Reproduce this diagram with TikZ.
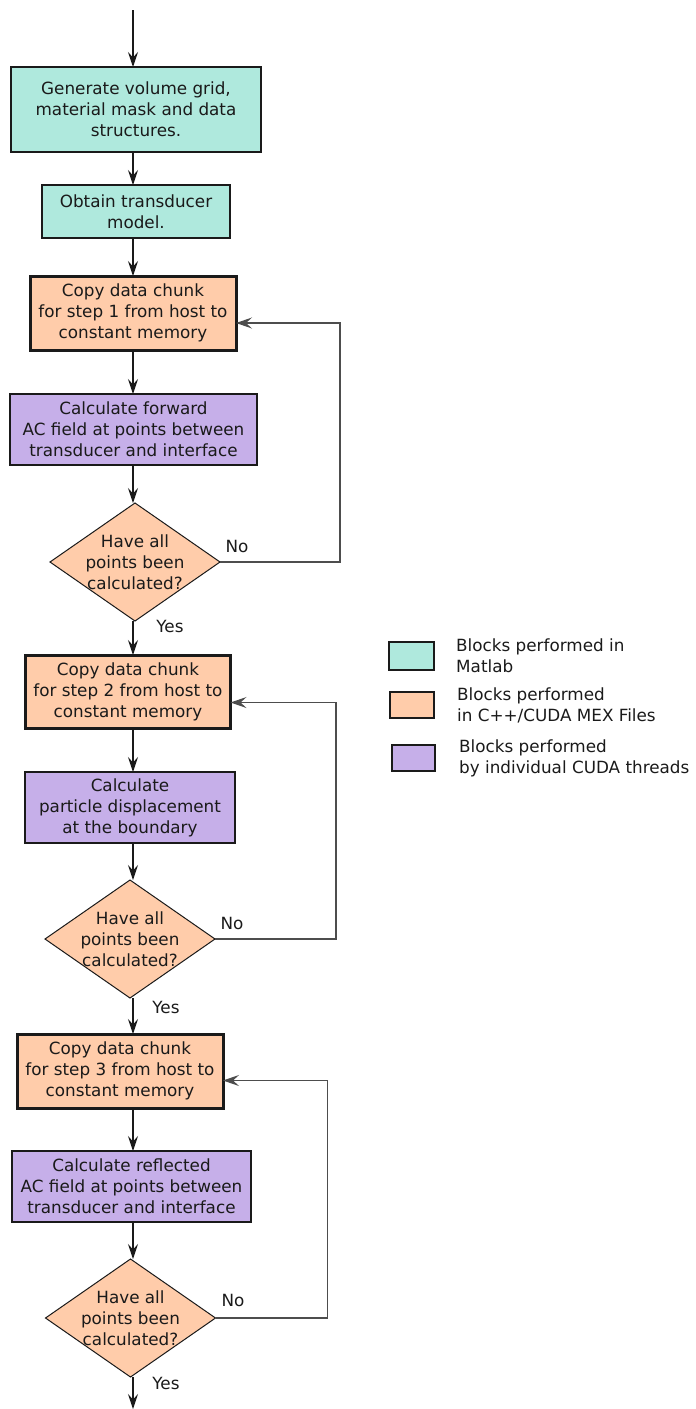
\documentclass[tikz,border=0pt]{standalone}
\usepackage{fontspec}
\setmainfont{DejaVu Sans}
\usetikzlibrary{positioning,arrows.meta,shapes.geometric,calc}
\definecolor{Teal}{RGB}{175,233,221}
\definecolor{Peach}{RGB}{255,204,170}
\definecolor{Lilac}{RGB}{198,175,233}
\definecolor{Ink}{RGB}{26,26,26}
\definecolor{Wire}{RGB}{77,77,77}
\newcommand\boxfont{\fontsize{16.8}{21}\selectfont}

\begin{document}
\begin{tikzpicture}[
 matbox/.style={draw=Ink,fill=Teal,line width=1.8pt,align=center,font=\boxfont,text=Ink,inner sep=0pt,outer sep=0pt},
 mexbox/.style={draw=Ink,fill=Peach,line width=3pt,align=center,font=\boxfont,text=Ink,inner sep=0pt,outer sep=0pt},
 thrbox/.style={draw=Ink,fill=Lilac,line width=2.2pt,align=center,font=\boxfont,text=Ink,inner sep=0pt,outer sep=0pt},
 dec/.style={diamond,draw=Ink,fill=Peach,line width=1pt,minimum width=170pt,minimum height=118pt,inner sep=0pt,outer sep=0pt},
 lab/.style={font=\boxfont,text=Ink,align=center,inner sep=0pt},
 keybox/.style={draw=Ink,line width=1.8pt,minimum width=44pt,minimum height=26pt,inner sep=0pt,outer sep=0pt},
 flow/.style={-{Stealth[length=15pt,width=10pt,inset=5.5pt]},line width=1.2pt,Ink},
 back/.style={-{Stealth[length=16pt,width=11pt,inset=6pt]},line width=1.3pt,Wire}]
\useasboundingbox (0,0) rectangle (696pt,-1409pt);
\coordinate (top) at (133pt,-10pt);
\coordinate (bot) at (133pt,-1409pt);
% Matlab side
\node[matbox,minimum width=250pt,minimum height=85pt] (b1) at (136pt,-109.5pt) {Generate volume grid,\\material mask and data\\structures.};
\node[matbox,minimum width=188pt,minimum height=53pt,below=33pt of b1] (b2) {Obtain transducer\\model.};
% step 1
\node[mexbox,minimum width=206pt,minimum height=74pt,below=38pt of b2,xshift=-3pt] (b3) {Copy data chunk\\for step 1 from host to\\constant memory};
\node[thrbox,minimum width=247pt,minimum height=71pt,below=44pt of b3,xshift=.5pt] (b4) {Calculate forward\\AC field at points between\\transducer and interface};
\node[dec,below=38pt of b4,xshift=1.5pt,label={[lab]center:{Have all\\points been\\calculated?}}] (d1) {};
% step 2
\node[mexbox,minimum width=205pt,minimum height=73pt,below=34pt of d1,xshift=-7pt] (b5) {Copy data chunk\\for step 2 from host to\\constant memory};
\node[thrbox,minimum width=210pt,minimum height=71pt,below=44pt of b5,xshift=2pt] (b6) {Calculate\\particle displacement\\at the boundary};
\node[dec,below=37pt of b6,label={[lab]center:{Have all\\points been\\calculated?}}] (d2) {};
% step 3
\node[mexbox,minimum width=206pt,minimum height=74pt,below=36pt of d2,xshift=-10pt] (b7) {Copy data chunk\\for step 3 from host to\\constant memory};
\node[thrbox,minimum width=239pt,minimum height=71pt,below=43pt of b7,xshift=11.5pt] (b8) {Calculate reflected\\AC field at points between\\transducer and interface};
\node[dec,below=37pt of b8,xshift=-1pt,label={[lab]center:{Have all\\points been\\calculated?}}] (d3) {};
% branch labels
\node[lab] (no1) at ([xshift=17pt,yshift=16pt]d1.east) {No};
\node[lab] (no2) at ([xshift=17pt,yshift=15.5pt]d2.east) {No};
\node[lab] (no3) at ([xshift=17.5pt,yshift=17.5pt]d3.east) {No};
\node[lab] (yes1) at ([xshift=35pt,yshift=-5pt]d1.south) {Yes};
\node[lab] (yes2) at ([xshift=36pt,yshift=-9pt]d2.south) {Yes};
\node[lab] (yes3) at ([xshift=35.5pt,yshift=-6.5pt]d3.south) {Yes};
% legend
\node[keybox,fill=Teal,minimum width=45pt,minimum height=28pt] (k1) at (411.5pt,-656pt) {};
\node[keybox,fill=Peach,below=22pt of k1,xshift=.5pt] (k2) {};
\node[keybox,fill=Lilac,minimum width=43pt,below=27pt of k2,xshift=1.5pt] (k3) {};
\node[lab,align=left,anchor=west] (t1) at ([xshift=22pt]k1.east) {Blocks performed in\\Matlab};
\node[lab,align=left,anchor=west] (t2) at ([xshift=23pt]k2.east) {Blocks performed\\in C++/CUDA MEX Files};
\node[lab,align=left,anchor=west] (t3) at ([xshift=24pt]k3.east) {Blocks performed\\by individual CUDA threads};
% main flow
\draw[flow] (top) -- (top |- b1.north);
\draw[flow] (top |- b1.south) -- (top |- b2.north);
\draw[flow] (top |- b2.south) -- (top |- b3.north);
\draw[flow] (top |- b3.south) -- (top |- b4.north);
\draw[flow] (top |- b4.south) -- (top |- d1.north);
\draw[flow] (top |- d1.south) -- (top |- b5.north);
\draw[flow] (top |- b5.south) -- (top |- b6.north);
\draw[flow] (top |- b6.south) -- (top |- d2.north);
\draw[flow] (top |- d2.south) -- (top |- b7.north);
\draw[flow] (top |- b7.south) -- (top |- b8.north);
\draw[flow] (top |- b8.south) -- (top |- d3.north);
\draw[flow] (top |- d3.south) -- (bot);
% loops back
\draw[back] (d1.east) -- ++(120pt,0) |- ([yshift=-10pt]b3.east);
\draw[back] (d2.east) -- ++(121pt,0) |- ([yshift=-11pt]b5.east);
\draw[back] (d3.east) -- ++(112pt,0) |- ([yshift=-9.5pt]b7.east);
\end{tikzpicture}
\end{document}
